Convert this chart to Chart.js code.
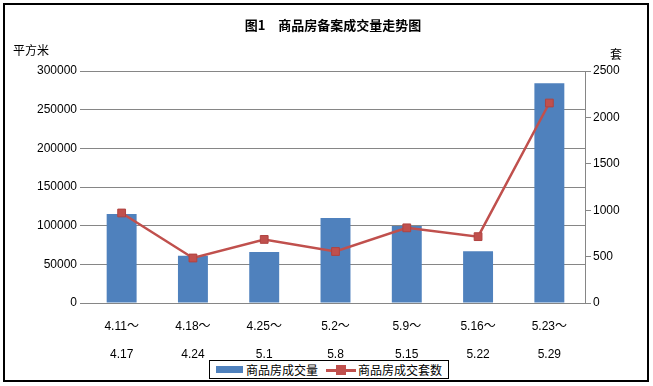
<!DOCTYPE html>
<html lang="zh">
<head>
  <meta charset="UTF-8">
  <title>商品房备案成交量走势图</title>
  <script src="https://cdn.jsdelivr.net/npm/chart.js"></script>
  <style>
    body { margin: 0; background: #fff; }
    .wrap { position: relative; width: 653px; height: 386px; }
    .legend {
      position: absolute; left: 209px; top: 360px; width: 238px; height: 17px;
      border: 1px solid #000; background: #fff;
      font: 12px "Noto Sans CJK SC", sans-serif; color: #000;
      display: flex; align-items: center; white-space: nowrap;
    }
    .sw-bar { display: inline-block; width: 27px; height: 7px; background: #4F81BD; margin: 0 3px 0 6px; }
    .sw-line { display: inline-block; position: relative; width: 30px; height: 10px; margin: 0 2px 0 8px; }
    .sw-line::before { content: ""; position: absolute; left: 0; right: 0; top: 4px; height: 3px; background: #C0504D; }
    .sw-line::after { content: ""; position: absolute; left: 10px; top: 0; width: 10px; height: 10px; background: #C0504D; }
  </style>
</head>
<body>
<div class="wrap">
  <canvas id="chart" width="653" height="386"></canvas>
  <div class="legend" id="legend"></div>
</div>
<script>
  // categories (week ranges)
  const weekStart = ['4.11～', '4.18～', '4.25～', '5.2～', '5.9～', '5.16～', '5.23～'];
  const weekEnd = ['4.17', '4.24', '5.1', '5.8', '5.15', '5.22', '5.29'];

  // 商品房成交量 (平方米)
  const areaValues = [115000, 61000, 66000, 110000, 99500, 67000, 284000];
  // 商品房成交套数 (套)
  const unitValues = [970, 485, 685, 555, 810, 715, 2155];

  const seriesNames = ['商品房成交量', '商品房成交套数'];
  const chartTitle = '图1　商品房备案成交量走势图';

  const labels = weekStart.map((s, i) => [s, '', weekEnd[i]]);
  const gridColor = '#868686';
  const tickFont = { family: '"Liberation Sans", "Noto Sans CJK SC", sans-serif', size: 12 };

  // frame, title and unit labels
  const decorations = {
    id: 'decorations',
    afterDraw(chart) {
      const ctx = chart.ctx;
      ctx.save();
      ctx.strokeStyle = '#000';
      ctx.lineWidth = 2;
      ctx.strokeRect(4, 4, 644, 377);
      ctx.fillStyle = '#000';
      ctx.textBaseline = 'middle';
      ctx.textAlign = 'center';
      ctx.font = 'bold 13px "Noto Sans CJK SC", sans-serif';
      ctx.fillText(chartTitle, 333, 25);
      ctx.font = '12px "Noto Sans CJK SC", sans-serif';
      ctx.textAlign = 'left';
      ctx.fillText('平方米', 13, 50);
      ctx.fillText('套', 610, 54);
      ctx.restore();
    }
  };

  const plain = v => String(v);

  const ctx = document.getElementById('chart').getContext('2d');
  new Chart(ctx, {
    data: {
      labels: labels,
      datasets: [{
        type: 'line',
        label: seriesNames[1],
        data: unitValues,
        yAxisID: 'y1',
        borderColor: '#C0504D',
        backgroundColor: '#C0504D',
        borderWidth: 2.5,
        pointStyle: 'rect',
        pointRadius: 5.5,
        pointBackgroundColor: '#C0504D',
        pointBorderColor: '#B04340',
        pointBorderWidth: 1,
        tension: 0,
        order: 0
      }, {
        type: 'bar',
        label: seriesNames[0],
        data: areaValues,
        yAxisID: 'y',
        backgroundColor: '#4F81BD',
        barPercentage: 0.42,
        categoryPercentage: 1,
        order: 1
      }]
    },
    options: {
      responsive: false,
      animation: false,
      layout: { padding: { top: 71, left: 0, right: 0, bottom: 0 } },
      plugins: {
        legend: { display: false },
        title: { display: false },
        tooltip: { enabled: false }
      },
      scales: {
        x: {
          offset: true,
          grid: { display: false },
          border: { display: true, color: gridColor },
          ticks: { color: '#000', font: tickFont, padding: 8, maxRotation: 0, autoSkip: false },
          afterFit(scale) { scale.height = 83; }
        },
        y: {
          position: 'left',
          min: 0, max: 300000,
          ticks: { stepSize: 50000, color: '#000', font: tickFont, padding: 3, callback: plain },
          grid: { color: gridColor, tickLength: 6 },
          border: { display: false },
          afterFit(scale) { scale.width = 86; }
        },
        y1: {
          position: 'right',
          min: 0, max: 2500,
          ticks: { stepSize: 500, color: '#000', font: tickFont, padding: 2, callback: plain },
          grid: { drawOnChartArea: false, color: gridColor, tickLength: 6 },
          border: { display: true, color: gridColor },
          afterFit(scale) { scale.width = 68; }
        }
      }
    },
    plugins: [decorations]
  });

  // legend
  document.getElementById('legend').innerHTML =
    '<span class="sw-bar"></span><span>' + seriesNames[0] + '</span>' +
    '<span class="sw-line"></span><span>' + seriesNames[1] + '</span>';
</script>
</body>
</html>
